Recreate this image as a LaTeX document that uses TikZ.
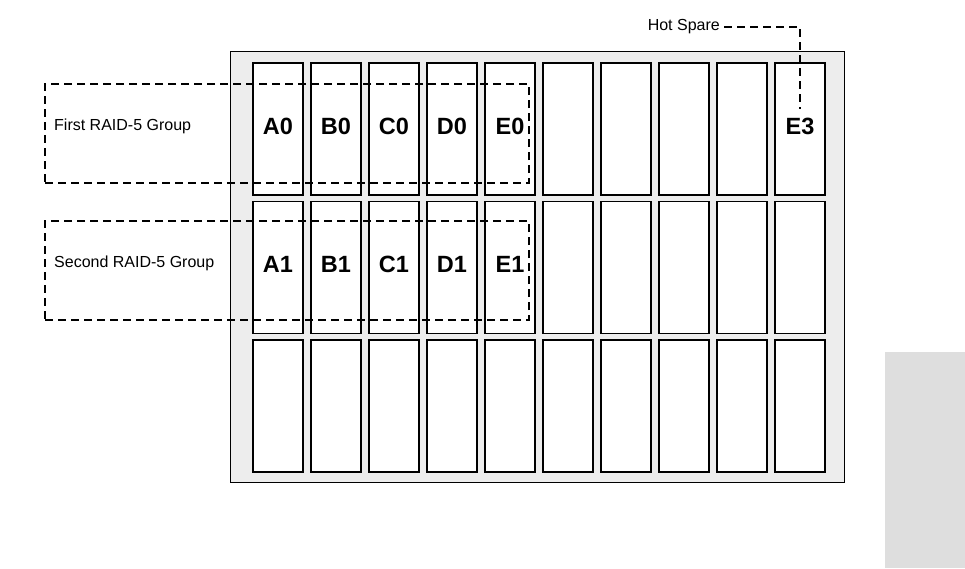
\documentclass[tikz,border=0pt]{standalone}
\usepackage{fontspec}
\setmainfont{Liberation Sans}
\usepackage{tikz}
\usetikzlibrary{positioning}

\begin{document}
\begin{tikzpicture}[x=1pt,y=-1pt,node distance=6pt]
       \tikzstyle{encl}=[draw, line width=0.8pt, fill=black!7, inner sep=0pt]
       \tikzstyle{disk}=[draw, line width=1.7pt, fill=white, minimum width=50pt, minimum height=132pt, inner sep=0pt]
       \tikzstyle{lbl}=[inner sep=2pt, font=\fontsize{23.5}{28}\selectfont\bfseries]
       \tikzstyle{txt}=[inner sep=2pt, font=\fontsize{16}{19}\selectfont]
       \tikzstyle{dashline}=[line width=1.8pt, dash pattern=on 8pt off 5pt]
       \tikzstyle{grp}=[draw, dashline, minimum width=484pt, minimum height=99pt, inner sep=0pt]

       \useasboundingbox (0,0) rectangle (965,568);

       \node[encl, minimum width=614pt, minimum height=431pt] (encl) at (537,266.5) {};
       \node[fill=black!13, minimum width=80pt, minimum height=216pt, inner sep=0pt] (tab) at (925,460) {};

       \foreach \r/\y in {1/129,2/267.5,3/406}
         \foreach \c in {1,...,10}
           \node[disk] (d\c-\r) at ({278+58*(\c-1)},\y) {};

       \foreach \l/\c in {A/1,B/2,C/3,D/4,E/5}{
         \node[lbl] (l\l0) at ([yshift=3pt]d\c-1) {\l0};
         \node[lbl] (l\l1) at ([yshift=3pt]d\c-2) {\l1};
       }
       \node[lbl] (lE3) at ([yshift=3pt]d10-1) {E3};

       \node[grp] (g1) at (287,133.5) {};
       \node[grp] (g2) at (287,270.5) {};
       \node[txt, anchor=west] (t1) at (52,126) {First RAID-5 Group};
       \node[txt, anchor=west] (t2) at (52,263) {Second RAID-5 Group};

       \node[txt, anchor=east, inner sep=4pt] (hs) at (724,27) {Hot Spare};
       \draw[dashline] (hs.east) -| ([yshift=6pt]lE3.north);
     \end{tikzpicture}
\end{document}
